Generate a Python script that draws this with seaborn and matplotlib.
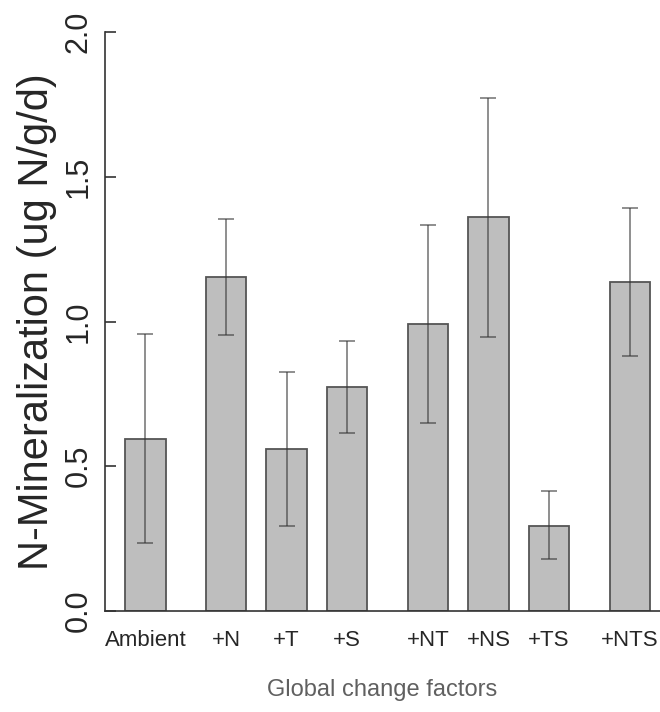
import matplotlib
matplotlib.use("Agg")
import matplotlib.pyplot as plt
import seaborn as sns
import numpy as np
import pandas as pd

# values
groups = [["Ambient"], ["+N", "+T", "+S"], ["+NT", "+NS", "+TS"], ["+NTS"]]
means = [0.594, 1.155, 0.559, 0.775, 0.990, 1.362, 0.295, 1.136]
upper = [0.957, 1.355, 0.827, 0.933, 1.335, 1.773, 0.414, 1.393]
lower = [0.236, 0.953, 0.295, 0.616, 0.649, 0.947, 0.179, 0.880]

# R style spacing: 0.5 bar width inside a group, 1 bar width between groups
labels, pos = [], []
x = 0.0
for gi, g in enumerate(groups):
    for j, name in enumerate(g):
        x += 1.0 if (j == 0 and gi > 0) else 0.5
        labels.append(name)
        pos.append(x + 0.5)
        x += 1.0

df = pd.DataFrame({"factor": labels, "pos": pos, "mean": means})

sns.set_theme(style="white")
plt.rcParams["font.family"] = ["Liberation Sans", "DejaVu Sans"]

fig = plt.figure(figsize=(6.6, 7.12), dpi=100)
ax = fig.add_axes([105 / 660, 101 / 712, 555 / 660, 579 / 712])

sns.barplot(
    data=df, x="pos", y="mean", native_scale=True,
    width=1 / 1.5, color="#bebebe", saturation=1,
    edgecolor="#555555", linewidth=1.3, errorbar=None, ax=ax,
)

m = np.array(means)
yerr = [m - np.array(lower), np.array(upper) - m]
ax.errorbar(
    pos, means, yerr=yerr, fmt="none",
    ecolor="#333333", alpha=0.55, elinewidth=1.4,
    capsize=6, capthick=1.4, zorder=5,
)

ax.set_xlim(0, 13.75)
ax.set_ylim(0, 2.0)
ax.set_xticks(pos)
ax.set_xticklabels(labels, fontsize=16)
ax.set_yticks([0.0, 0.5, 1.0, 1.5, 2.0])
ax.set_yticklabels(["0.0", "0.5", "1.0", "1.5", "2.0"], fontsize=22,
                   rotation=90, va="center")
ax.tick_params(axis="x", length=0, pad=14)
ax.tick_params(axis="y", direction="in", length=8, width=1.2,
               color="#333333", pad=8, left=True)

ax.set_xlabel("Global change factors", fontsize=17, color="#606060", labelpad=20)
ax.set_ylabel("N-Mineralization (ug N/g/d)", fontsize=30, labelpad=5)

for s in ["top", "right"]:
    ax.spines[s].set_visible(False)
for s in ["left", "bottom"]:
    ax.spines[s].set_color("#333333")
    ax.spines[s].set_linewidth(1.2)

fig.savefig("out.png", dpi=100)
